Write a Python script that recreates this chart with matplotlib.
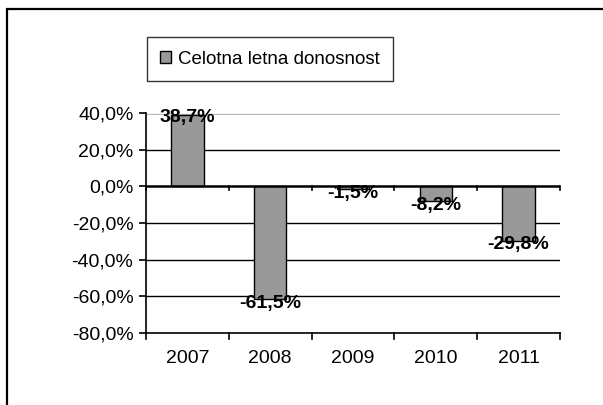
import matplotlib
matplotlib.use("Agg")
import matplotlib.pyplot as plt
from matplotlib.patches import Rectangle

years = ["2007", "2008", "2009", "2010", "2011"]
returns = [38.7, -61.5, -1.5, -8.2, -29.8]
labels = ["38,7%", "-61,5%", "-1,5%", "-8,2%", "-29,8%"]
yticks = [40, 20, 0, -20, -40, -60, -80]
ytick_labels = ["40,0%", "20,0%", "0,0%", "-20,0%", "-40,0%", "-60,0%", "-80,0%"]
series_name = "Celotna letna donosnost"

plt.rcParams['font.family'] = ['Liberation Sans', 'DejaVu Sans']

W, H = 603, 405
fig = plt.figure(figsize=(W / 100, H / 100), dpi=100)

# outer frame
fig.patches.append(Rectangle((7 / W, -0.1), 1.2, (H - 9) / H + 0.1, transform=fig.transFigure,
                             fill=False, edgecolor='black', linewidth=1.6))

left, right, top, bottom = 146, 560, 113, 333
ax = fig.add_axes([left / W, 1 - bottom / H, (right - left) / W, (bottom - top) / H])
ax.set_xlim(0, 5)
ax.set_ylim(-80, 40)

xs = [i + 0.5 for i in range(len(years))]
bars = ax.bar(xs, returns, width=0.39, color='#999999', edgecolor='black', linewidth=1.0,
              label=series_name, zorder=3)

# gridlines
for v in yticks:
    if v == 40:
        ax.axhline(v, color='#bbbbbb', linewidth=2.2, zorder=1)
        ax.axhline(v, color='white', linewidth=0.6, zorder=1)
    elif v in (0, -80):
        pass
    else:
        ax.axhline(v, color='black', linewidth=1.0, zorder=1)

# zero axis with ticks
ax.axhline(0, color='black', linewidth=1.8, zorder=4)
ax.axhline(-80, color='black', linewidth=1.2, zorder=4, clip_on=False)
for i in range(6):
    ax.plot([i, i], [0, -1.8], color='black', linewidth=1.2, zorder=4, clip_on=False)
    ax.plot([i, i], [-80, -83], color='black', linewidth=1.2, zorder=4, clip_on=False)

for s in ['top', 'right', 'bottom']:
    ax.spines[s].set_visible(False)
ax.spines['left'].set_linewidth(1.2)
ax.set_yticks(yticks)
ax.set_yticklabels(ytick_labels, fontsize=14)
ax.tick_params(axis='y', length=5, width=1.2, pad=4)
ax.set_xticks([])
for x, yr in zip(xs, years):
    ax.text(x, -89.5, yr, ha='center', va='top', fontsize=14)

for x, v, lab in zip(xs, returns, labels):
    off = -1.0 if v > 0 else -2.2
    ax.text(x, v + off, lab, ha='center', va='center', fontsize=14, fontweight='bold', zorder=5)

leg = fig.legend(handles=[bars], labels=[series_name], loc='center',
                 bbox_to_anchor=(270 / W, 1 - 59 / H), fontsize=13.5, frameon=True,
                 fancybox=False, edgecolor='black', handlelength=0.6, handleheight=0.6,
                 handletextpad=0.4, borderpad=0.7, borderaxespad=0)
leg.get_frame().set_linewidth(1.0)

fig.savefig("out.png", dpi=100)
